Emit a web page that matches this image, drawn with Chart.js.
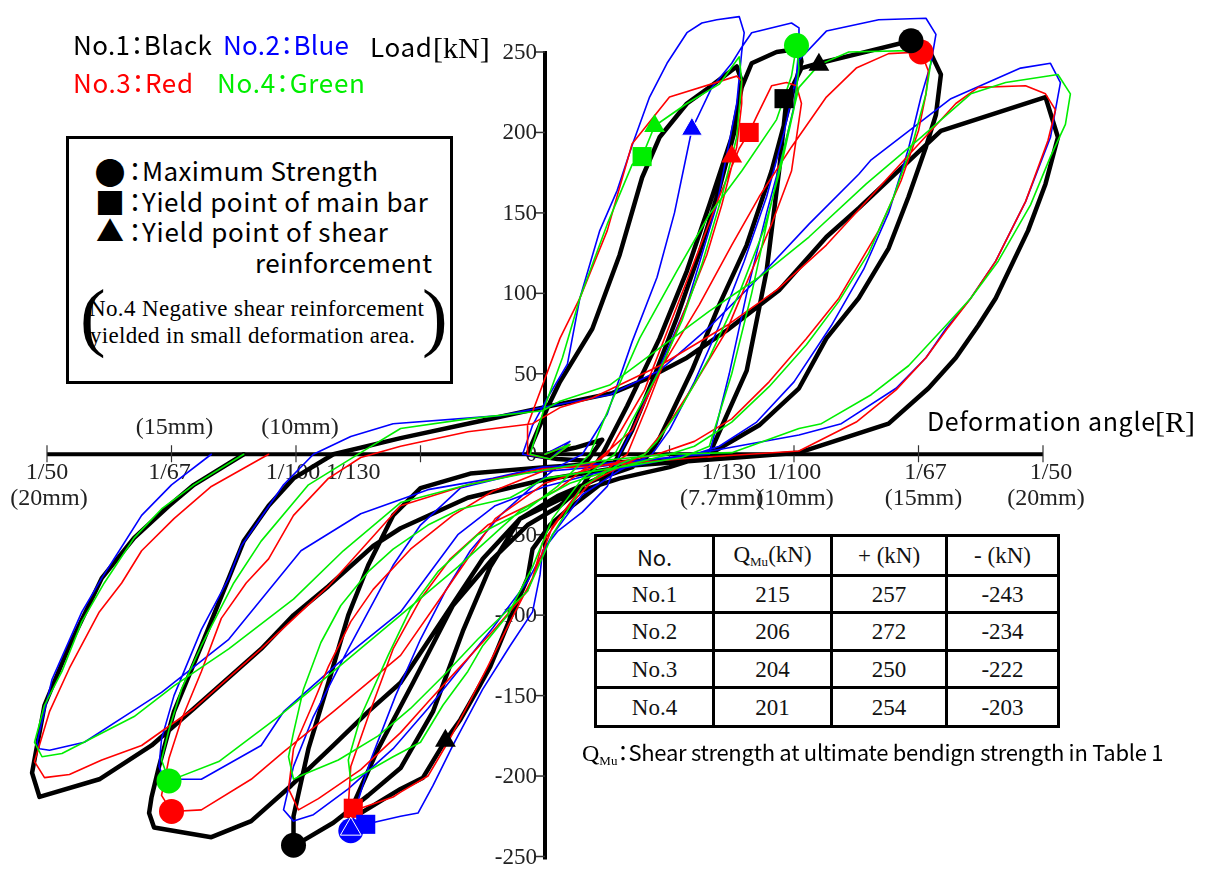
<!DOCTYPE html>
<html>
<head>
<meta charset="utf-8">
<script src="https://cdn.jsdelivr.net/npm/chart.js@4.4.1/dist/chart.umd.min.js"></script>
<style>
  html, body { margin: 0; padding: 0; background: #fff; }
  #wrap { position: relative; width: 1205px; height: 870px; overflow: hidden; background: #fff; }
  #plot { position: absolute; left: 0; top: 0; }
  .t { position: absolute; white-space: nowrap; line-height: 1; }
  .sans { font-family: "Noto Sans CJK JP", "Noto Sans", sans-serif; font-feature-settings: "halt"; }
  .serif { font-family: "Liberation Serif", "Times New Roman", serif; }
  .sym { position: absolute; line-height: 1; transform: translate(-50%, -50%); font-family: "Noto Sans CJK JP", sans-serif; }
  #legendBox { position: absolute; left: 66px; top: 136px; width: 387px; height: 248px; box-sizing: border-box; border: 3px solid #000; background: #fff; }
  #tbl { position: absolute; left: 594px; top: 534px; border-collapse: collapse; table-layout: fixed; background: #fff; }
  #tbl td, #tbl th { border: 3px solid #000; padding: 0; text-align: center; vertical-align: middle;
    font-family: "Liberation Serif", "Times New Roman", serif; font-size: 23px; font-weight: normal; color: #111; line-height: 1; }
  #tbl th.sans { font-family: "Noto Sans CJK JP", sans-serif; font-size: 22px; }
  sub.mu { font-size: 13px; vertical-align: -4px; font-family: "Liberation Serif", serif; }
</style>
</head>
<body>
<div id="wrap">
  <canvas id="plot" width="1205" height="870"></canvas>

  <div class="t sans" data-w="139" style="left:73px;top:31px;font-size:26px;color:#000">No.1：Black</div>
  <div class="t sans" data-w="126" style="left:223px;top:31px;font-size:26px;color:#0000ff">No.2：Blue</div>
  <div class="t sans" data-w="120" style="left:73px;top:69px;font-size:26px;color:#ff0000">No.3：Red</div>
  <div class="t sans" data-w="148" style="left:217px;top:69px;font-size:26px;color:#00ee00">No.4：Green</div>

  <div class="t sans" data-w="62" style="left:370px;top:33px;font-size:26px;color:#000">Load</div>
  <div class="t serif" style="left:433px;top:33px;font-size:30px;color:#000">[kN]</div>

  <div class="t sans" data-w="228" style="left:927px;top:408px;font-size:25px;color:#000">Deformation angle</div>
  <div class="t serif" style="left:1155px;top:407px;font-size:30px;color:#000">[R]</div>

  <div id="legendBox"></div>
  <div class="sym" style="left:110px;top:170px;font-size:31px">●</div>
  <div class="sym" style="left:110px;top:201px;font-size:30px">■</div>
  <div class="sym" style="left:110px;top:230px;font-size:28px">▲</div>
  <div class="t sans" style="left:122px;top:157px;font-size:26px;font-feature-settings:normal">：</div>
  <div class="t sans" style="left:122px;top:188px;font-size:26px;font-feature-settings:normal">：</div>
  <div class="t sans" style="left:122px;top:218px;font-size:26px;font-feature-settings:normal">：</div>
  <div class="t sans" data-w="236" style="left:142px;top:157px;font-size:26px">Maximum Strength</div>
  <div class="t sans" data-w="286" style="left:142px;top:188px;font-size:26px">Yield point of main bar</div>
  <div class="t sans" data-w="246" style="left:142px;top:218px;font-size:26px">Yield point of shear</div>
  <div class="t sans" data-w="177" style="left:255px;top:249px;font-size:26px">reinforcement</div>
  <div class="t serif" style="left:80px;top:278px;font-size:77px">(</div>
  <div class="t serif" style="left:422px;top:278px;font-size:77px">)</div>
  <div class="t serif" data-w="335" style="left:89px;top:297px;font-size:23px">No.4 Negative shear reinforcement</div>
  <div class="t serif" data-w="325" style="left:90px;top:324px;font-size:23px">yielded in small deformation area.</div>

  <table id="tbl"></table>

  <div class="t" style="left:582px;top:740px;font-size:24px">
    <span class="serif">Q</span><sub class="mu">Mu</sub><span class="sans" style="font-size:22px">：</span><span class="sans" data-w="535" style="font-size:22px">Shear strength at ultimate bendign strength in Table 1</span>
  </div>
</div>

<script>
// ---- Table values (kN) ----
const specimenNames = ['No.1', 'No.2', 'No.3', 'No.4'];
const qMu = [215, 206, 204, 201];
const maxPositive = [257, 272, 250, 254];
const maxNegative = [-243, -234, -222, -203];

// Deformation (mm) at which each specimen reached its maximum strength
const maxPositiveAt = [14.7, 7.8, 15.1, 10.1];
const maxNegativeAt = [-10.1, -7.8, -15.0, -15.1];

// Yield points [deformation mm, load kN]
const mainBarYield = [
  [[9.6, 221]],
  [[6.9, 270], [-7.2, -230]],
  [[8.2, 200], [-7.7, -220]],
  [[3.9, 185]]
];
const shearYield = [
  [[11.0, 242], [-4.0, -178]],
  [[5.9, 202], [-7.8, -233]],
  [[7.5, 185]],
  [[4.4, 204]]
];

// Axis ticks
const loadTicks = [-250, -200, -150, -100, -50, 0, 50, 100, 150, 200, 250];
const angleTickMarks = [-20, -15, -10, -5, 5, 10, 15, 20];
const angleLabelAt = [-20, -15, -10, -7.7, 7.7, 10, 15, 20];
const angleLabels = ['1/50', '1/67', '1/100', '1/130', '1/130', '1/100', '1/67', '1/50'];
const mmLabels = ['(20mm)', '(15mm)', '(10mm)', '', '(7.7mm)', '(10mm)', '(15mm)', '(20mm)'];

// Load–deformation hysteresis, [deformation mm, load kN]
const no1Path = [
  [0,0],[1.2,4],[2.3,9],[1.7,-4],[0.5,-3],[-0.7,0],
  [0.1,29],[0.6,45],[1.9,78],[3.0,124],[3.9,172],[4.6,197],[5.7,218],[6.6,228],[7.7,241],
  [7.9,232],[7.6,200],[7.0,165],[6.2,125],[5.3,85],[4.3,45],[3.5,15],[3.0,0],
  [2.2,-19],[1.1,-32],[0.2,-44],[-0.5,-59],[-0.7,-77],[-1.4,-102],[-2.2,-132],[-2.7,-146],[-3.4,-165],[-4.0,-178],[-4.9,-201],[-5.8,-208],[-7.4,-223],[-7.9,-225],
  [-7.8,-221],[-6.7,-183],[-5.3,-142],[-3.7,-94],[-2.1,-65],[-0.7,-44],[0.6,-32],[1.5,-20],
  [2.3,0],[3.3,30],[4.6,72],[5.7,114],[6.6,155],[7.5,197],[7.9,228],[8.3,243],[9.3,250],[10.2,252],
  [10.3,244],[10.0,228],[9.1,176],[8.1,130],[7.0,93],[5.9,52],[4.6,10],[4.2,0],
  [3.5,-8],[2.0,-16],[0.5,-26],[-1.0,-40],[-2.2,-70],[-3.3,-110],[-4.5,-160],[-5.8,-195],[-7.1,-212],[-8.5,-229],[-9.7,-240],[-10.1,-243],
  [-10.1,-225],[-9.5,-183],[-8.7,-142],[-7.9,-100],[-7.1,-69],[-6.1,-38],[-5.0,-21],
  [-3.0,-12],[0,-8],[3.0,-5],[5.5,-3],[6.6,0],[8.1,52],[8.9,114],[9.4,176],[9.7,221],[10.3,240],[11.0,243],[12.6,249],[14.7,257],
  [15.5,249],[15.9,236],[15.7,211],[15.3,191],[14.6,160],[13.8,128],[12.6,97],[11.3,72],[10.2,41],[8.6,18],[6.6,0],
  [5.0,-8],[3.0,-15],[1.0,-25],[-1.0,-40],[-2.5,-65],[-4.0,-100],[-5.8,-142],[-7.1,-160],[-8.5,-181],[-10.2,-206],[-11.8,-228],[-13.4,-238],[-15.7,-232],
  [-15.9,-223],[-15.8,-213],[-15.5,-194],[-14.9,-160],[-13.8,-119],[-12.7,-77],[-12.1,-54],[-11.1,-32],[-10.1,-15],[-8.5,0],
  [-5.8,10],[-2.5,21],[-0.1,29],[2.7,38],[4.1,47],[5.7,60],[7.3,77],[9.4,102],[11.3,135],[12.6,153],[15.9,201],[20.1,222],
  [20.6,197],[20.1,168],[19.4,139],[18.1,97],[17.4,80],[16.5,60],[15.4,41],[13.8,19],[10.2,1],
  [3.5,-7],[-0.1,-16],[-3.1,-27],[-5.8,-46],[-6.9,-57],[-8.7,-82],[-10.1,-100],[-11.4,-121],[-14.1,-158],[-15.8,-181],[-17.9,-202],[-20.3,-213],
  [-20.6,-198],[-20.1,-156],[-19.1,-119],[-17.8,-77],[-16.5,-52],[-15.1,-32],[-14.1,-19],[-12.1,0]
];

const no2Path = [
  [0,0],[1.0,8],[0.2,-3],[-0.9,0],
  [-0.5,18],[0.1,35],[0.9,56],[1.4,97],[2.2,139],[2.9,164],[3.5,192],[4.2,222],[4.9,243],[5.7,262],[6.3,268],[6.9,270],[7.8,272],
  [8.0,262],[7.9,250],[7.7,218],[7.3,186],[6.9,155],[6.3,124],[5.7,93],[4.5,50],[3.5,15],[3.0,0],
  [2.5,-20],[1.5,-36],[0.5,-48],[-0.1,-60],[-0.2,-75],[-0.5,-98],[-1.4,-119],[-2.5,-146],[-3.7,-181],[-4.5,-206],[-5.1,-223],[-5.8,-225],[-7.2,-230],[-7.8,-234],
  [-7.6,-220],[-7.0,-190],[-6.0,-150],[-5.0,-115],[-4.0,-85],[-3.0,-60],[-1.8,-38],[-0.5,-20],[0.5,-8],
  [1.5,0],[2.5,25],[3.5,70],[4.5,110],[5.2,150],[5.9,202],[6.7,228],[7.5,243],[7.9,253],[8.3,262],[9.9,268],[10.2,265],
  [10.2,255],[10.1,235],[9.6,200],[8.9,160],[8.0,120],[7.0,80],[6.0,45],[5.0,15],[4.3,0],
  [3.0,-10],[1.5,-25],[0.3,-50],[-0.7,-79],[-2.1,-108],[-3.4,-133],[-4.7,-158],[-6.1,-183],[-7.9,-208],[-9.3,-224],[-10.1,-228],
  [-10.5,-221],[-10.1,-194],[-9.3,-163],[-7.9,-121],[-6.1,-69],[-5.0,-44],[-3.4,-21],
  [-1.0,-12],[2.0,-8],[4.0,-4],[5.5,-1],[6.6,0],[7.4,50],[8.1,100],[8.9,150],[9.6,190],[10.0,216],[10.2,245],[11.3,263],[13.4,270],[15.3,271],
  [15.7,261],[15.5,243],[15.1,222],[14.6,190],[13.8,150],[12.8,115],[11.5,80],[10.0,45],[8.5,20],[7.0,5],[6.0,0],
  [4.0,-6],[2.0,-12],[0,-20],[-2.0,-32],[-3.5,-50],[-5.8,-98],[-7.8,-123],[-10.5,-160],[-11.4,-181],[-13.8,-202],[-15.3,-202],
  [-15.5,-194],[-15.4,-177],[-14.9,-150],[-13.8,-109],[-12.7,-77],[-12.2,-57],[-10.5,-19],[-9.3,0],
  [-7.8,11],[-6.1,19],[-1.8,24],[-0.1,29],[2.6,37],[4.6,52],[6.6,79],[8.6,110],[10.6,143],[12.6,174],[13.1,183],[16.3,221],[19.1,240],[20.3,243],
  [20.7,231],[20.3,197],[19.3,157],[18.1,120],[17.1,97],[16.1,78],[15.3,60],[14.1,41],[11.9,19],[10.2,12],[7.0,3],[5.0,-2],
  [2.2,-6],[-0.1,-8],[-2.1,-15],[-4.7,-22],[-7.4,-37],[-9.8,-60],[-12.7,-115],[-15.4,-148],[-16.5,-159],[-18.5,-179],[-19.9,-184],[-20.3,-183],
  [-20.4,-179],[-19.8,-140],[-18.6,-98],[-17.8,-77],[-17.1,-60],[-16.2,-38],[-15.0,-19],[-13.4,0]
];

const no3Path = [
  [0,0],[1.0,6],[0.2,-3],[-0.7,0],
  [-0.7,18],[0.6,72],[1.4,97],[2.5,139],[3.5,193],[5.0,222],[7.7,235],
  [7.9,232],[7.9,218],[7.7,191],[7.1,155],[6.5,124],[5.7,93],[4.9,62],[4.1,30],[3.3,0],
  [2.0,-15],[0.8,-35],[-0.1,-55],[-0.5,-77],[-1.4,-104],[-2.3,-132],[-3.1,-156],[-3.9,-179],[-4.7,-200],[-5.8,-210],[-6.1,-213],[-7.4,-220],[-7.8,-222],
  [-7.9,-219],[-7.8,-194],[-7.1,-163],[-6.1,-121],[-5.0,-90],[-3.8,-65],[-2.3,-44],[-0.7,-32],
  [0.5,-22],[1.5,-10],[2.5,0],[4.0,40],[5.0,80],[6.0,120],[7.0,160],[7.8,190],[8.2,200],[8.5,210],[9.1,229],[9.7,231],[10.1,229],
  [10.3,218],[9.9,176],[9.1,143],[8.3,114],[7.3,77],[5.9,41],[4.8,15],[4.0,0],
  [3.0,-8],[1.5,-20],[0.3,-45],[-0.7,-85],[-2.1,-110],[-3.4,-132],[-4.7,-154],[-5.8,-173],[-7.4,-196],[-9.1,-214],[-9.9,-221],
  [-10.3,-208],[-10.1,-183],[-9.4,-158],[-8.7,-132],[-7.8,-104],[-6.9,-84],[-5.4,-59],[-3.7,-38],[-2.1,-23],
  [0,-10],[2,-5],[3.5,15],[4.6,52],[6.2,93],[7.5,130],[8.6,160],[9.9,191],[11.3,222],[12.5,240],[13.8,249],[15.1,250],
  [15.4,238],[15.3,224],[15.0,201],[14.3,170],[13.4,139],[12.6,118],[11.8,97],[10.5,72],[9.0,45],[7.5,22],[6.0,8],[4.5,0],
  [2,-8],[0,-18],[-2,-40],[-4,-85],[-5.8,-125],[-8.5,-160],[-10.5,-185],[-11.8,-202],[-13.8,-221],[-15.0,-222],
  [-15.4,-212],[-15.1,-189],[-14.6,-165],[-13.8,-135],[-13.0,-102],[-12.0,-80],[-11.1,-65],[-10.1,-38],[-8.7,-15],[-7.4,-2],
  [-5.8,5],[-3.1,14],[-0.5,19],[0.6,29],[1.9,35],[4.6,55],[7.3,80],[9.3,102],[11.3,130],[12.6,152],[13.9,174],[16.5,218],[17.4,228],[19.3,229],
  [20.1,224],[20.5,214],[20.2,195],[19.3,157],[18.1,120],[17.1,97],[16.2,79],[15.3,60],[14.1,40],[12.5,20],[10.2,2],
  [6.2,-2],[2.2,-7],[-0.1,-9],[-3.1,-19],[-5.8,-32],[-8.7,-82],[-11.4,-121],[-14.1,-158],[-16.2,-181],[-17.8,-190],[-19.1,-199],[-20.1,-201],
  [-20.5,-191],[-19.9,-160],[-19.1,-133],[-17.9,-98],[-17.0,-80],[-16.2,-60],[-14.9,-40],[-13.4,-20],[-11.1,0]
];

const no4Path = [
  [0,0],[1.0,6],[0.2,-3],[-0.6,0],
  [0,30],[0.7,60],[1.4,97],[2.5,143],[3.5,180],[3.9,185],[4.4,204],[5.7,218],[7.0,230],[7.8,247],
  [7.9,232],[7.7,197],[7.1,160],[6.3,118],[5.5,83],[4.6,52],[3.5,21],[2.8,0],
  [1.5,-15],[0.3,-40],[-0.5,-70],[-1.5,-100],[-2.5,-119],[-3.1,-135],[-4.1,-156],[-5.0,-179],[-6.1,-188],[-7.8,-203],
  [-7.9,-190],[-7.4,-163],[-6.3,-125],[-5.4,-96],[-4.3,-73],[-2.7,-50],[-0.7,-34],
  [0.5,-20],[1.8,0],[2.6,30],[3.8,72],[5.3,114],[6.6,149],[7.9,176],[9.3,208],[9.9,235],[10.1,254],
  [10.2,240],[10.0,215],[9.5,180],[8.8,140],[7.8,100],[6.6,60],[5.5,30],[4.5,8],[4.0,0],
  [3,-6],[1.5,-20],[0.3,-50],[-0.7,-85],[-2.7,-115],[-4.1,-138],[-5.4,-158],[-6.7,-175],[-8.3,-190],[-9.7,-199],[-10.1,-202],
  [-10.3,-188],[-10.1,-173],[-9.7,-146],[-9.0,-117],[-8.2,-94],[-7.1,-73],[-6.1,-59],[-4.7,-44],[-3.4,-34],[-1.4,-27],
  [0,-15],[3,-8],[5.5,-2],[6.6,5],[7.5,50],[8.3,100],[9.0,150],[9.6,190],[10.2,228],[11.0,242],[12.2,250],[15.0,251],
  [15.5,244],[15.3,224],[14.8,195],[14.0,160],[13.0,125],[11.8,95],[10.5,68],[9.0,42],[7.5,20],[6.0,5],[5.0,0],
  [3,-8],[1,-18],[-1,-35],[-3.5,-70],[-5.8,-100],[-8.5,-135],[-10.7,-163],[-13.1,-191],[-15.1,-203],
  [-15.4,-190],[-15.1,-171],[-14.6,-146],[-13.8,-119],[-12.5,-80],[-11.4,-54],[-9.5,-19],[-7.4,1],
  [-5.8,16],[-3.1,22],[-0.1,27],[0.6,33],[2.6,43],[4.6,66],[6.6,89],[8.6,110],[10.6,135],[12.9,168],[15.1,197],[17.1,224],[18.5,231],[20.6,236],
  [21.1,224],[20.9,205],[20.3,185],[19.5,155],[18.2,120],[17.1,97],[16.1,80],[14.6,55],[13.1,37],[11.1,19],[10.2,16],[7.5,1],[4.9,0],
  [2.2,-4],[-0.5,-11],[-3.1,-19],[-5.8,-30],[-8.1,-60],[-10.1,-90],[-12.7,-121],[-14.9,-144],[-16.5,-163],[-19.4,-186],[-20.2,-188],
  [-20.5,-179],[-20.1,-156],[-19.4,-135],[-18.6,-104],[-17.7,-80],[-16.5,-52],[-15.4,-34],[-14.1,-19],[-12.1,0]
];

const specimenPaths = [no1Path, no2Path, no3Path, no4Path];
const specimenColors = ['#000000', '#0000ff', '#ff0000', '#00ee00'];
const specimenWidths = [4.5, 1.6, 1.6, 1.6];

// ---- Table ----
(function buildTable() {
  const tbl = document.getElementById('tbl');
  const widths = [118, 118, 115, 112];
  const cg = document.createElement('colgroup');
  widths.forEach(w => { const c = document.createElement('col'); c.style.width = w + 'px'; cg.appendChild(c); });
  tbl.appendChild(cg);
  tbl.style.width = widths.reduce((a, b) => a + b, 0) + 'px';
  const head = document.createElement('tr');
  head.style.height = '40px';
  head.innerHTML = '<th class="sans">No.</th><th>Q<sub class="mu">Mu</sub>(kN)</th><th>+ (kN)</th><th>- (kN)</th>';
  tbl.appendChild(head);
  const rowH = [37, 38, 37, 39];
  specimenNames.forEach((name, i) => {
    const tr = document.createElement('tr');
    tr.style.height = rowH[i] + 'px';
    [name, qMu[i], maxPositive[i], maxNegative[i]].forEach(v => {
      const td = document.createElement('td');
      td.textContent = String(v);
      tr.appendChild(td);
    });
    tbl.appendChild(tr);
  });
})();

// ---- Fit text spans to their measured widths ----
function fitText() {
  document.querySelectorAll('[data-w]').forEach(el => {
    el.style.letterSpacing = '0px';
    const w = el.getBoundingClientRect().width;
    const n = [...el.textContent].length;
    if (n > 1) el.style.letterSpacing = ((+el.dataset.w - w) / (n - 1)).toFixed(2) + 'px';
  });
}
fitText();
if (document.fonts && document.fonts.ready) document.fonts.ready.then(fitText);

// ---- Cross axes through the origin ----
const labelNudge = [0, -2, -3, 0, -8, 0, 7, 8];      // px, fraction labels
const mmNudge = [2, 3, 4, 0, -15, 1, 5, 3];           // px, millimetre labels
const crossAxes = {
  id: 'crossAxes',
  beforeDatasetsDraw(chart) {
    const { ctx, scales: { x, y } } = chart;
    const x0 = x.getPixelForValue(0);
    const y0 = y.getPixelForValue(0);
    ctx.save();
    ctx.strokeStyle = '#000';
    ctx.lineWidth = 4;
    ctx.beginPath();
    ctx.moveTo(x0, y.getPixelForValue(loadTicks[loadTicks.length - 1]) - 1);
    ctx.lineTo(x0, y.getPixelForValue(loadTicks[0]) + 3);
    ctx.moveTo(x.getPixelForValue(angleTickMarks[0]), y0);
    ctx.lineTo(x.getPixelForValue(angleTickMarks[angleTickMarks.length - 1]), y0);
    ctx.stroke();

    // load ticks and labels
    ctx.lineWidth = 1.5;
    ctx.strokeStyle = '#333';
    ctx.fillStyle = '#222';
    ctx.font = '23px "Liberation Serif", "Times New Roman", serif';
    ctx.textAlign = 'right';
    ctx.textBaseline = 'middle';
    loadTicks.forEach(v => {
      const py = y.getPixelForValue(v);
      ctx.beginPath();
      ctx.moveTo(x0 - 10, py);
      ctx.lineTo(x0, py);
      ctx.stroke();
      ctx.fillText(String(v), x0 - 8, py + 1);
    });

    // deformation ticks
    ctx.lineWidth = 1.2;
    angleTickMarks.forEach(v => {
      const px = x.getPixelForValue(v);
      ctx.beginPath();
      ctx.moveTo(px, y0 - 9);
      ctx.lineTo(px, y0 + 8);
      ctx.stroke();
    });

    // deformation labels
    ctx.font = '24px "Liberation Serif", "Times New Roman", serif';
    ctx.textAlign = 'center';
    ctx.fillStyle = '#222';
    angleLabelAt.forEach((v, i) => {
      const px = x.getPixelForValue(v);
      ctx.fillText(angleLabels[i], px + labelNudge[i], y0 + 18);
      const mm = mmLabels[i];
      if (!mm) return;
      if (v === -15 || v === -10) ctx.fillText(mm, px + mmNudge[i], y0 - 27);
      else ctx.fillText(mm, px + mmNudge[i], y0 + 44);
    });
    ctx.restore();
  }
};

// ---- Datasets ----
const toPts = arr => arr.map(([x, y]) => ({ x, y }));
const datasets = [];
specimenPaths.forEach((path, i) => {
  datasets.push({
    data: toPts(path),
    showLine: true,
    borderColor: specimenColors[i],
    borderWidth: specimenWidths[i],
    borderJoinStyle: 'round',
    borderCapStyle: 'round',
    pointRadius: 0,
    fill: false,
    tension: 0,
    clip: false,
    order: 10 - i
  });
});
specimenPaths.forEach((_, i) => {
  const color = specimenColors[i];
  datasets.push({
    data: [{ x: maxPositiveAt[i], y: maxPositive[i] }, { x: maxNegativeAt[i], y: maxNegative[i] }],
    pointStyle: 'circle', pointRadius: 12.5, backgroundColor: color, borderWidth: 0, clip: false, order: 2
  });
  datasets.push({
    data: toPts(mainBarYield[i]),
    pointStyle: 'rect', pointRadius: 13.5, backgroundColor: color, borderWidth: 0, clip: false, order: 1
  });
  datasets.push({
    data: toPts(shearYield[i]),
    pointStyle: 'triangle', pointRadius: 12, backgroundColor: color,
    borderColor: i === 1 ? '#ffffff' : color, borderWidth: i === 1 ? 1 : 0, clip: false, order: 0
  });
});

new Chart(document.getElementById('plot'), {
  type: 'scatter',
  data: { datasets },
  options: {
    responsive: false,
    animation: false,
    events: [],
    layout: { padding: { left: 47, right: 162, top: 52, bottom: 13 } },
    scales: {
      x: { type: 'linear', min: -20, max: 20, display: false },
      y: { type: 'linear', min: -250, max: 250, display: false }
    },
    plugins: { legend: { display: false }, tooltip: { enabled: false } }
  },
  plugins: [crossAxes]
});
</script>
</body>
</html>
